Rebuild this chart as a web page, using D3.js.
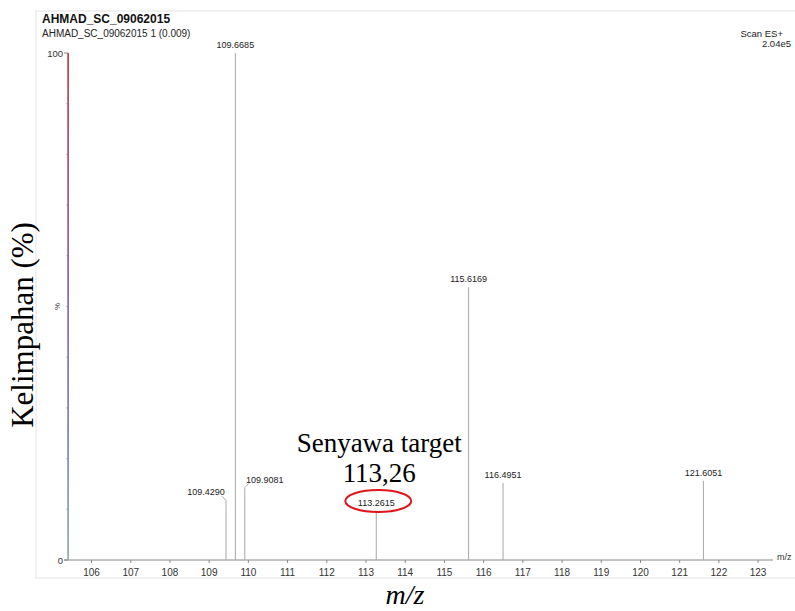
<!DOCTYPE html>
<html lang="en">
<head>
<meta charset="UTF-8">
<title>AHMAD_SC_09062015 mass spectrum</title>
<script src="https://d3js.org/d3.v7.min.js"></script>
<style>
    body { margin: 0; background: #fff; }
    svg { display: block; }
    .sans { font-family: "Liberation Sans", Arial, sans-serif; }
    .serif { font-family: "Liberation Serif", "Times New Roman", serif; }
</style>
</head>
<body>
<div id="chart"></div>
<script>
    // peaks (m/z, relative abundance %)
    const peakMz = [109.4290, 109.6685, 109.9081, 113.2615, 115.6169, 116.4951, 121.6051];
    const peakAbundance = [11, 100, 13.5, 9.6, 53.8, 15.2, 15.6];
    const peakLabels = ["109.4290", "109.6685", "109.9081", "113.2615", "115.6169", "116.4951", "121.6051"];
    // label shift for the crowded pair
    const labelShift = [-20, 0, 20, 0, 0, 0, 0];

    const xTicks = [106, 107, 108, 109, 110, 111, 112, 113, 114, 115, 116, 117, 118, 119, 120, 121, 122, 123];
    const yTicks = [0, 100];
    const yMinorTicks = [10, 20, 30, 40, 50, 60, 70, 80, 90];

    const width = 795, height = 611;
    const svg = d3.select("#chart").append("svg")
        .attr("width", width).attr("height", height);

    const x = d3.scaleLinear().domain([105.4, 123.38]).range([68, 773]);
    const y = d3.scaleLinear().domain([0, 100]).range([560, 53]);

    // frame of the embedded instrument screenshot
    svg.append("rect")
        .attr("x", 36).attr("y", 11).attr("width", 770).attr("height", 567)
        .attr("fill", "none").attr("stroke", "#e4e4e4");

    // header texts
    svg.append("text").attr("class", "sans")
        .attr("x", 42).attr("y", 23)
        .attr("font-size", 12).attr("font-weight", "bold").attr("fill", "#111")
        .text("AHMAD_SC_09062015");
    svg.append("text").attr("class", "sans")
        .attr("x", 42).attr("y", 37)
        .attr("font-size", 10).attr("fill", "#222")
        .text("AHMAD_SC_09062015 1 (0.009)");
    svg.append("text").attr("class", "sans")
        .attr("x", 783).attr("y", 37).attr("text-anchor", "end")
        .attr("font-size", 9.5).attr("fill", "#222")
        .text("Scan ES+");
    svg.append("text").attr("class", "sans")
        .attr("x", 791).attr("y", 47).attr("text-anchor", "end")
        .attr("font-size", 9.5).attr("fill", "#222")
        .text("2.04e5");

    // x axis
    const xAxis = svg.append("g").attr("transform", `translate(0,${y(0)})`);
    xAxis.append("line")
        .attr("x1", x.range()[0] - 4).attr("x2", x.range()[1])
        .attr("stroke", "#888");
    xAxis.selectAll(".xt").data(xTicks).enter().append("line")
        .attr("x1", d => x(d)).attr("x2", d => x(d))
        .attr("y1", 0).attr("y2", 3)
        .attr("stroke", "#888");
    xAxis.selectAll(".xl").data(xTicks).enter().append("text")
        .attr("class", "sans")
        .attr("x", d => x(d)).attr("y", 16)
        .attr("text-anchor", "middle")
        .attr("font-size", 10).attr("fill", "#333")
        .text(d => d);
    xAxis.append("text").attr("class", "sans")
        .attr("x", x.range()[1] + 4).attr("y", 0)
        .attr("font-size", 9).attr("fill", "#333")
        .text("m/z");

    // y axis
    const yAxis = svg.append("g").attr("transform", `translate(${x.range()[0]},0)`);
    yAxis.append("line")
        .attr("y1", y(0)).attr("y2", y(100))
        .attr("stroke", "#999");
    yAxis.selectAll(".ym").data(yMinorTicks).enter().append("line")
        .attr("x1", -2).attr("x2", 0)
        .attr("y1", d => y(d)).attr("y2", d => y(d))
        .attr("stroke", "#bbb");
    yAxis.selectAll(".yt").data(yTicks).enter().append("line")
        .attr("x1", -4).attr("x2", 0)
        .attr("y1", d => y(d)).attr("y2", d => y(d))
        .attr("stroke", "#888");
    yAxis.selectAll(".yl").data(yTicks).enter().append("text")
        .attr("class", "sans")
        .attr("x", -5).attr("y", d => y(d) + 3.5)
        .attr("text-anchor", "end")
        .attr("font-size", 9.5).attr("fill", "#333")
        .text(d => d);
    yAxis.append("text").attr("class", "sans")
        .attr("transform", `translate(-8,${y(50)}) rotate(-90)`)
        .attr("text-anchor", "middle")
        .attr("font-size", 8).attr("fill", "#333")
        .text("%");

    // coloured trace hugging the left edge
    const grad = svg.append("defs").append("linearGradient")
        .attr("id", "edge").attr("x1", 0).attr("x2", 0).attr("y1", 0).attr("y2", 1);
    grad.append("stop").attr("offset", "0%").attr("stop-color", "#c8202c");
    grad.append("stop").attr("offset", "40%").attr("stop-color", "#8a4a9a");
    grad.append("stop").attr("offset", "75%").attr("stop-color", "#6a7ac8");
    grad.append("stop").attr("offset", "100%").attr("stop-color", "#8fb0a0");
    svg.append("rect")
        .attr("x", x.range()[0] - 0.5).attr("y", y(100))
        .attr("width", 1.3).attr("height", y(0) - y(100))
        .attr("fill", "url(#edge)");

    // peaks
    const peaks = peakMz.map((m, i) => ({ mz: m, ab: peakAbundance[i], label: peakLabels[i], dx: labelShift[i] }));
    const pg = svg.append("g");
    pg.selectAll(".peak").data(peaks).enter().append("line")
        .attr("x1", d => x(d.mz)).attr("x2", d => x(d.mz))
        .attr("y1", y(0)).attr("y2", d => y(d.ab))
        .attr("stroke", "#a8a8a8").attr("stroke-width", 1);
    // small connectors for shifted labels
    pg.selectAll(".conn").data(peaks.filter(d => d.dx !== 0)).enter().append("path")
        .attr("d", d => {
            const px = x(d.mz), py = y(d.ab);
            const s = d.dx > 0 ? 1 : -1;
            return `M${px},${py} L${px},${py - 4} L${px + s * 4},${py - 8}`;
        })
        .attr("fill", "none").attr("stroke", "#a8a8a8");
    pg.selectAll(".pl").data(peaks).enter().append("text")
        .attr("class", "sans")
        .attr("x", d => x(d.mz) + d.dx)
        .attr("y", d => y(d.ab) - (d.dx !== 0 ? 9 : 5))
        .attr("text-anchor", "middle")
        .attr("font-size", 9).attr("fill", "#222")
        .text(d => d.label);

    // annotation of the target compound
    const target = peaks[3];
    svg.append("ellipse")
        .attr("cx", x(target.mz) + 2).attr("cy", 501)
        .attr("rx", 33).attr("ry", 11)
        .attr("fill", "none").attr("stroke", "#e0141c").attr("stroke-width", 2);
    svg.append("text").attr("class", "serif")
        .attr("x", x(target.mz) + 3).attr("y", 452)
        .attr("text-anchor", "middle")
        .attr("font-size", 27).attr("fill", "#000")
        .text("Senyawa target");
    svg.append("text").attr("class", "serif")
        .attr("x", x(target.mz) + 3).attr("y", 482)
        .attr("text-anchor", "middle")
        .attr("font-size", 27).attr("fill", "#000")
        .text("113,26");

    // outer axis titles
    svg.append("text").attr("class", "serif")
        .attr("transform", "translate(33,325) rotate(-90)")
        .attr("text-anchor", "middle")
        .attr("font-size", 31).attr("fill", "#000")
        .text("Kelimpahan (%)");
    svg.append("text").attr("class", "serif")
        .attr("x", 405).attr("y", 604)
        .attr("text-anchor", "middle")
        .attr("font-size", 28).attr("font-style", "italic").attr("fill", "#000")
        .text("m/z");
</script>
</body>
</html>
